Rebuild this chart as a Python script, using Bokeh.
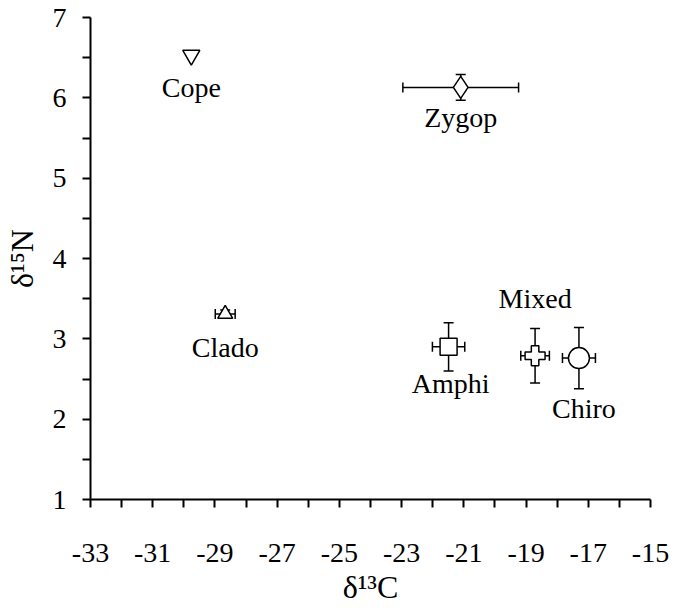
from bokeh.plotting import figure
from bokeh.models import ColumnDataSource, Whisker, TeeHead, FixedTicker, Range1d
from bokeh.core.properties import value
from bokeh.embed import file_html
from bokeh.resources import INLINE

# ---- data ----
groups = ["Cope", "Zygop", "Clado", "Amphi", "Mixed", "Chiro"]
d13c = [-29.76, -21.1, -28.67, -21.49, -18.71, -17.3]
d15n = [6.53, 6.13, 3.31, 2.9, 2.79, 2.76]
d13c_err = [0.0, 1.86, 0.32, 0.52, 0.46, 0.53]
d15n_err = [0.0, 0.16, 0.05, 0.30, 0.34, 0.38]

x_ticks = [-33, -31, -29, -27, -25, -23, -21, -19, -17, -15]
x_minor = [-32, -30, -28, -26, -24, -22, -20, -18, -16]
y_ticks = [1, 2, 3, 4, 5, 6, 7]
y_minor = [1.5, 2.5, 3.5, 4.5, 5.5, 6.5]

# ---- styles ----
markers = ["inverted_triangle", "diamond", "triangle", "square", "plus", "circle"]
msizes = [17, 22, 15, 17, 20, 21]
lab_dx = [0, 0, 0, 2, 0, 5]
lab_dy = [32, 30, 34, 37, -57, 50]

FONT = "'Liberation Serif', 'Times New Roman', 'DejaVu Serif', serif"

src = ColumnDataSource(dict(
    x=d13c, y=d15n, g=groups,
    m=markers, s=msizes, dx=lab_dx, dy=lab_dy,
))
err_idx = [i for i, (a, b) in enumerate(zip(d13c_err, d15n_err)) if a > 0 or b > 0]
esrc = ColumnDataSource(dict(
    x=[d13c[i] for i in err_idx], y=[d15n[i] for i in err_idx],
    xl=[d13c[i] - d13c_err[i] for i in err_idx], xu=[d13c[i] + d13c_err[i] for i in err_idx],
    yl=[d15n[i] - d15n_err[i] for i in err_idx], yu=[d15n[i] + d15n_err[i] for i in err_idx],
))

p = figure(
    output_backend="svg", toolbar_location=None,
    x_range=Range1d(-33, -15), y_range=Range1d(1, 7),
    frame_width=560, frame_height=482,
    min_border_left=84, min_border_right=20, min_border_top=17, min_border_bottom=96,
)
p.outline_line_color = None
p.xgrid.visible = False
p.ygrid.visible = False
p.background_fill_color = "white"

for ax, ticks, minor in ((p.xaxis[0], x_ticks, x_minor), (p.yaxis[0], y_ticks, y_minor)):
    ax.ticker = FixedTicker(ticks=ticks, minor_ticks=minor)
    ax.major_label_overrides = {t: str(t) for t in ticks}
    ax.axis_line_width = 2
    ax.axis_line_color = "black"
    ax.major_tick_line_width = 2
    ax.minor_tick_line_width = 2
    ax.major_tick_in = 0
    ax.minor_tick_in = 0
    ax.major_tick_out = 8
    ax.minor_tick_out = 8
    ax.major_label_text_font = FONT
    ax.major_label_text_font_size = "28px"
    ax.major_label_text_color = "black"
    ax.axis_label_text_font = FONT
    ax.axis_label_text_font_size = "32px"
    ax.axis_label_text_font_style = "normal"
    ax.axis_label_text_color = "black"

p.xaxis.axis_label = "δ¹³C"
p.yaxis.axis_label = "δ¹⁵N"
p.xaxis.major_label_standoff = 36
p.yaxis.major_label_standoff = 16
p.xaxis.axis_label_standoff = 4
p.yaxis.axis_label_standoff = 10

# error bars
head = dict(size=10, line_width=1.5, line_color="black")
p.add_layout(Whisker(source=esrc, base="y", lower="xl", upper="xu", dimension="width",
                     line_width=1.5, line_color="black",
                     lower_head=TeeHead(**head), upper_head=TeeHead(**head)))
p.add_layout(Whisker(source=esrc, base="x", lower="yl", upper="yu", dimension="height",
                     line_width=1.5, line_color="black",
                     lower_head=TeeHead(**head), upper_head=TeeHead(**head)))

p.scatter(x="x", y="y", marker="m", size="s", source=src,
          fill_color="white", line_color="black", line_width=1.5)

p.text(x="x", y="y", text="g", source=src, x_offset="dx", y_offset="dy",
       text_font=value(FONT), text_font_size="28px", text_color="black",
       text_align="center", text_baseline="middle")

open("out.html", "w").write(file_html(p, INLINE))
